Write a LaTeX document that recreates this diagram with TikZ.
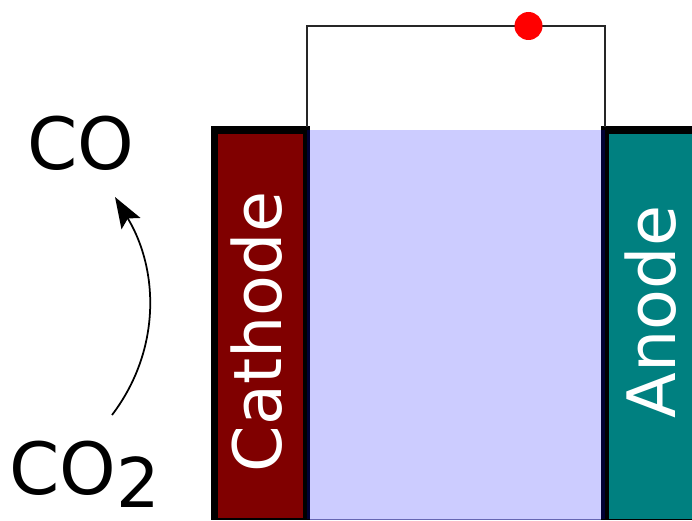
\documentclass[tikz,border=0pt]{standalone}
\usepackage{fontspec}
\setmainfont{DejaVu Sans}
\usetikzlibrary{arrows.meta}
\tikzset{
    eltext/.style={white,rotate=90,font=\fontsize{38}{40}\selectfont},
    chem/.style={black,font=\fontsize{41}{44}\selectfont,inner sep=0pt},
}
\begin{document}
\begin{tikzpicture}[x=0.02cm,y=-0.02cm]
    \useasboundingbox (0,0) rectangle (692,520);
    % Elektroda
    \fill[black] (211,126) rectangle (310,520);
    \fill[black] (601,126) rectangle (692,520);
    \fill[red!50!black] (218,134) rectangle (303,518);
    \fill[teal] (609,134) rectangle (692,519);
    % Larutan
    \fill[blue,opacity=0.2] (307,130) rectangle (605,519);
    \draw[blue!50!black,opacity=0.6,line width=0.02cm] (310,519) -- (601,519);
    % Kawat
    \coordinate (wireL) at (307,127);
    \coordinate (wireR) at (605,127);
    \draw[black!85,line width=0.035cm] (wireL) -- (307,26) -- (605,26) -- (wireR);
    \node[circle,fill=red,minimum size=0.56cm,inner sep=0pt] (electron) at (528.5,26) {};
    % Label
    \node[eltext] (cathode) at (257,332) {Cathode};
    \node[eltext,anchor=south] (anode) at (683,312) {Anode};
    \node[chem] (co) at (80.5,143) {CO};
    \node[chem,anchor=base west] (cotwo) at (9,494) {CO{\raisebox{-0.19em}{\fontsize{39}{44}\selectfont 2}}};
    % Reaksi
    \coordinate (startArc) at (112,415);
    \coordinate (endArc) at (115,197);
    \draw[-{Stealth[length=0.62cm,width=0.44cm,inset=0.12cm]},line width=0.035cm] (startArc) .. controls (160,352) and (160,272) .. (endArc);
\end{tikzpicture}
\end{document}
